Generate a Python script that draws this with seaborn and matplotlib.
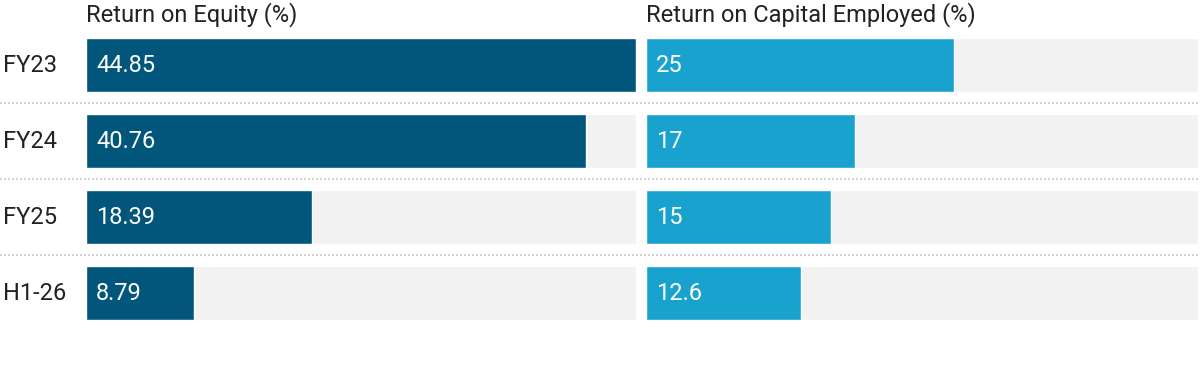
import matplotlib
matplotlib.use("Agg")
import matplotlib.pyplot as plt
import matplotlib.transforms as mtransforms
import seaborn as sns
import pandas as pd

categories = ["FY23", "FY24", "FY25", "H1-26"]
roe = [44.85, 40.76, 18.39, 8.79]
roce = [25, 17, 15, 12.6]
roe_labels = ["44.85", "40.76", "18.39", "8.79"]
roce_labels = ["25", "17", "15", "12.6"]
titles = ["Return on Equity (%)", "Return on Capital Employed (%)"]

sns.set_theme(style="white")
plt.rcParams['font.family'] = ['Roboto', 'DejaVu Sans']

W, H = 1200, 386
fig = plt.figure(figsize=(W / 100, H / 100), dpi=100)
fig.patch.set_facecolor("white")

xmax = max(roe)
bg_color = "#F2F2F2"
panels = [
    (86, 550, roe, roe_labels, "#02557B", titles[0]),
    (646, 552, roce, roce_labels, "#19A2CE", titles[1]),
]
ax_bottom = 1 - 331 / H
ax_height = 304 / H
bar_w = 54 / 76
FS = 17

axes = []
for left_px, width_px, vals, labs, color, title in panels:
    ax = fig.add_axes([left_px / W, ax_bottom, width_px / W, ax_height])
    df = pd.DataFrame({"cat": categories, "val": vals, "full": [xmax] * len(vals)})
    sns.barplot(data=df, x="full", y="cat", orient="h", color=bg_color,
                width=bar_w, ax=ax, saturation=1)
    sns.barplot(data=df, x="val", y="cat", orient="h", color=color,
                width=bar_w, ax=ax, saturation=1)
    ax.set_xlim(0, xmax)
    ax.set_ylim(3.5, -0.5)
    ax.axis("off")
    trans = mtransforms.blended_transform_factory(
        ax.transAxes + mtransforms.ScaledTranslation(10 / 100, 0, fig.dpi_scale_trans),
        ax.transData)
    for i, lab in enumerate(labs):
        ax.text(0, i, lab, transform=trans, color="white", fontsize=FS,
                va="center", ha="left")
    fig.text(left_px / W, 1 - 15 / H, title, fontsize=FS, color="#222222",
             va="center", ha="left")
    axes.append(ax)

ax0 = axes[0]
tr = mtransforms.blended_transform_factory(fig.transFigure, ax0.transData)
for i, c in enumerate(categories):
    ax0.text(3 / W, i, c, transform=tr, fontsize=FS, color="#222222",
             va="center", ha="left", clip_on=False)
for yv in [0.5, 1.5, 2.5]:
    ax0.plot([0, 1198 / W], [yv, yv], transform=tr, color="#D3D3D3",
             linestyle=(0, (1, 1)), linewidth=1.44, clip_on=False)

fig.savefig("out.png", dpi=100, facecolor="white")
